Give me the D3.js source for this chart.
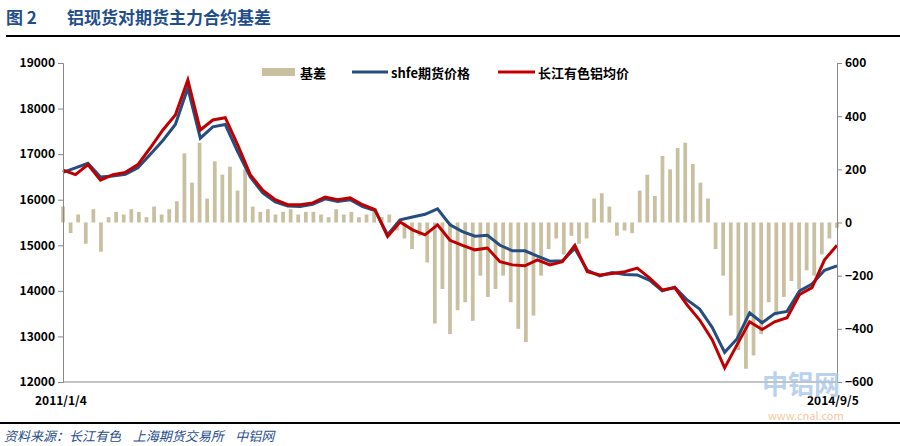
<!DOCTYPE html><html><head><meta charset="utf-8"><script src="https://cdn.jsdelivr.net/npm/d3@7"></script>
<style>body{margin:0;background:#fff}text{font-family:"Noto Sans CJK SC","Noto Sans",sans-serif;white-space:pre}</style></head><body><svg id="c" width="900" height="446"></svg><script>
const xLabels=["2011/1/4","2014/9/5"];
const leftTicks=[12000,13000,14000,15000,16000,17000,18000,19000];
const rightTicks=[-600,-400,-200,0,200,400,600];
const spot=[16650,16550,16770,16430,16550,16600,16770,17140,17530,17860,18630,17530,17750,17800,17200,16550,16210,16000,15890,15890,15930,16060,16000,16040,15890,15780,15190,15510,15340,15230,15450,15110,15000,14900,14940,14640,14570,14550,14680,14570,14640,15000,14420,14350,14380,14420,14500,14280,14020,14070,13690,13360,12930,12310,12820,13320,13150,13320,13410,13920,14070,14680,15000];
const fut=[16600,16700,16800,16500,16520,16560,16700,17000,17300,17650,18450,17350,17600,17650,17050,16500,16150,15950,15860,15850,15900,16020,15960,16000,15850,15760,15230,15560,15620,15680,15800,15450,15300,15200,15220,15000,14880,14880,14760,14650,14660,14930,14450,14330,14400,14360,14350,14230,14000,14080,13800,13600,13200,12650,12950,13520,13300,13500,13550,14000,14150,14450,14550];
const basis=[60,-40,30,-80,50,-110,20,40,30,50,40,20,60,30,50,80,260,150,300,90,230,180,210,120,200,60,40,50,30,40,50,30,40,40,30,20,50,30,40,20,30,40,20,30,-30,-60,-100,-50,-150,-380,-250,-420,-330,-300,-370,-200,-280,-250,-200,-300,-400,-450,-350,-200,-100,-60,-120,-50,-80,-60,90,110,60,-50,-30,-40,120,180,100,250,200,280,300,220,150,90,-100,-200,-350,-480,-550,-500,-420,-300,-350,-280,-220,-250,-180,-200,-120,-60,-20];
const svg=d3.select("#c");
const L=63,R=837,T=63,B=382;
const x=d3.scaleLinear().domain([0,1]).range([L,R]);
const yl=d3.scaleLinear().domain([12000,19000]).range([B,T]);
const yr=d3.scaleLinear().domain([-600,600]).range([B,T]);
svg.append("text").attr("x",6).attr("y",24).attr("fill","#1f4e8c").attr("font-size",17).attr("font-weight","bold").text("图 2");
svg.append("text").attr("x",67).attr("y",24).attr("fill","#1f4e8c").attr("font-size",17).attr("font-weight","bold").text("铝现货对期货主力合约基差");
svg.append("line").attr("x1",6).attr("x2",900).attr("y1",36).attr("y2",36).attr("stroke","#000").attr("stroke-width",2);
svg.append("line").attr("x1",0).attr("x2",900).attr("y1",423).attr("y2",423).attr("stroke","#000").attr("stroke-width",2);
svg.append("text").attr("x",4).attr("y",441).attr("fill","#1f4e8c").attr("font-size",13).attr("font-style","italic").text("资料来源：长江有色    上海期货交易所    中铝网");
const bw=(R-L)/basis.length;
svg.append("g").selectAll("rect").data(basis).join("rect")
 .attr("x",(d,i)=>x(i/(basis.length-1))-bw*0.25).attr("width",bw*0.5)
 .attr("y",d=>Math.min(yr(d),yr(0))).attr("height",d=>Math.abs(yr(d)-yr(0))).attr("fill","#c8c0a0");
const line=(arr)=>d3.line().x((d,i)=>x(i/(arr.length-1))).y(d=>yl(d))(arr);
svg.append("path").attr("d",line(fut)).attr("fill","none").attr("stroke","#264d7f").attr("stroke-width",3);
svg.append("path").attr("d",line(spot)).attr("fill","none").attr("stroke","#c00000").attr("stroke-width",3);
const ga=svg.append("g").attr("transform",`translate(${L},0)`).call(d3.axisLeft(yl).tickValues(leftTicks).tickSize(5).tickFormat(d3.format("d")));
const gr=svg.append("g").attr("transform",`translate(${R},0)`).call(d3.axisRight(yr).tickValues(rightTicks).tickSize(5).tickFormat(d3.format("d")));
[ga,gr].forEach(g=>{g.selectAll("path,line").attr("stroke","#888");g.selectAll("text").attr("font-size",12).attr("font-weight","bold").attr("fill","#000");});
svg.append("line").attr("x1",L).attr("x2",R).attr("y1",B).attr("y2",B).attr("stroke","#888");
svg.append("text").attr("x",35).attr("y",405).attr("font-size",12).attr("font-weight","bold").text(xLabels[0]);
svg.append("text").attr("x",807).attr("y",405).attr("font-size",12).attr("font-weight","bold").text(xLabels[1]);
svg.append("rect").attr("x",262).attr("y",68).attr("width",33).attr("height",8).attr("fill","#c8c0a0");
svg.append("text").attr("x",300).attr("y",78).attr("font-size",13).attr("font-weight","bold").text("基差");
svg.append("line").attr("x1",352).attr("x2",388).attr("y1",72).attr("y2",72).attr("stroke","#264d7f").attr("stroke-width",3);
svg.append("text").attr("x",391).attr("y",78).attr("font-size",13).attr("font-weight","bold").text("shfe期货价格");
svg.append("line").attr("x1",498).attr("x2",535).attr("y1",72).attr("y2",72).attr("stroke","#c00000").attr("stroke-width",3);
svg.append("text").attr("x",538).attr("y",78).attr("font-size",13).attr("font-weight","bold").text("长江有色铝均价");
svg.append("text").attr("x",762).attr("y",394).attr("font-size",26).attr("font-weight","bold").attr("fill","#a9c8e8").attr("opacity",0.8).text("中铝网");
svg.append("text").attr("x",768).attr("y",420).attr("font-size",11).attr("fill","#f5c9a0").text("www.cnal.com");
</script></body></html>
